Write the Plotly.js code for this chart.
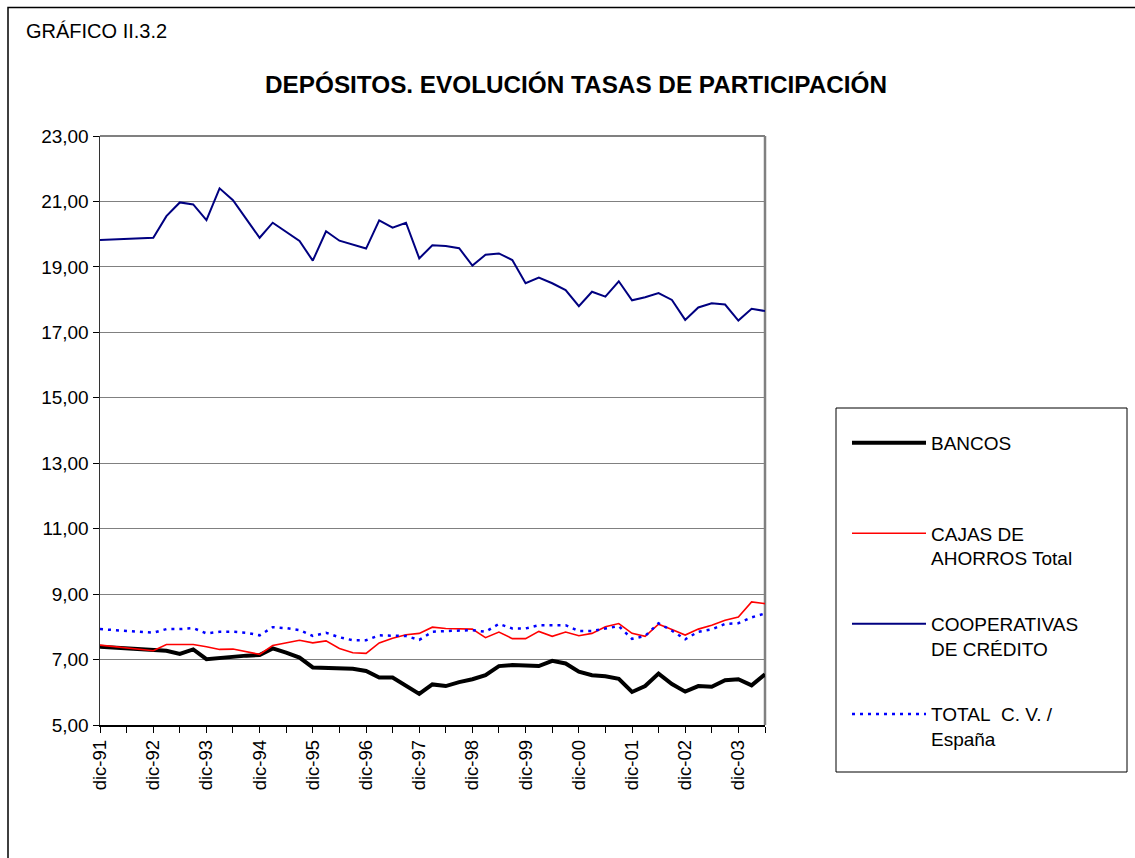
<!DOCTYPE html>
<html>
<head>
<meta charset="utf-8">
<script src="https://cdn.plot.ly/plotly-3.0.1.min.js"></script>
<style>
  html, body { margin: 0; padding: 0; background: #ffffff; }
  #chart { width: 1135px; height: 858px; }
</style>
</head>
<body>
<div id="chart"></div>
<script>
// Period of each observation (dic-91, dic-92, then quarterly up to jun-04)
const periods = [
  '1991-12-01','1992-12-01',
  '1993-03-01','1993-06-01','1993-09-01','1993-12-01',
  '1994-03-01','1994-06-01','1994-09-01','1994-12-01',
  '1995-03-01','1995-06-01','1995-09-01','1995-12-01',
  '1996-03-01','1996-06-01','1996-09-01','1996-12-01',
  '1997-03-01','1997-06-01','1997-09-01','1997-12-01',
  '1998-03-01','1998-06-01','1998-09-01','1998-12-01',
  '1999-03-01','1999-06-01','1999-09-01','1999-12-01',
  '2000-03-01','2000-06-01','2000-09-01','2000-12-01',
  '2001-03-01','2001-06-01','2001-09-01','2001-12-01',
  '2002-03-01','2002-06-01','2002-09-01','2002-12-01',
  '2003-03-01','2003-06-01','2003-09-01','2003-12-01',
  '2004-03-01','2004-06-01'
];

const bancos = [
  7.39, 7.28,
  7.27, 7.17, 7.31, 7.01,
  7.05, 7.10, 7.12, 7.14,
  7.34, 7.21, 7.06, 6.76,
  6.75, 6.75, 6.72, 6.65,
  6.45, 6.45, 6.19, 5.95,
  6.24, 6.19, 6.31, 6.40,
  6.52, 6.80, 6.83, 6.83,
  6.80, 6.96, 6.88, 6.63,
  6.52, 6.49, 6.41, 6.01,
  6.19, 6.57, 6.25, 6.02,
  6.19, 6.17, 6.37, 6.40,
  6.21, 6.55
];

const cajas = [
  7.44, 7.27,
  7.46, 7.46, 7.46, 7.39,
  7.31, 7.32, 7.24, 7.16,
  7.43, 7.52, 7.59, 7.51,
  7.57, 7.34, 7.21, 7.19,
  7.51, 7.65, 7.76, 7.80,
  7.99, 7.95, 7.95, 7.93,
  7.67, 7.84, 7.64, 7.64,
  7.86, 7.71, 7.84, 7.73,
  7.80, 8.00, 8.10, 7.80,
  7.71, 8.08, 7.92, 7.75,
  7.93, 8.05, 8.20, 8.30,
  8.76, 8.71
];

const cooperativas = [
  19.82, 19.89,
  20.55, 20.97, 20.91, 20.43,
  21.40, 21.04, 20.46, 19.89,
  20.35, 20.08, 19.79, 19.19,
  20.09, 19.80, 19.68, 19.56,
  20.42, 20.20, 20.35, 19.26,
  19.66, 19.64, 19.57, 19.04,
  19.37, 19.41, 19.21, 18.50,
  18.67, 18.50, 18.29, 17.80,
  18.24, 18.09, 18.56, 17.98,
  18.07, 18.20, 17.99, 17.38,
  17.76, 17.89, 17.85, 17.36,
  17.72, 17.65
];

const totalCV = [
  7.93, 7.82,
  7.93, 7.93, 7.96, 7.80,
  7.85, 7.85, 7.82, 7.74,
  7.99, 7.96, 7.90, 7.72,
  7.82, 7.68, 7.59, 7.59,
  7.74, 7.74, 7.72, 7.60,
  7.85, 7.87, 7.88, 7.90,
  7.85, 8.09, 7.95, 7.95,
  8.05, 8.05, 8.05, 7.87,
  7.87, 7.95, 8.02, 7.63,
  7.72, 8.11, 7.88, 7.62,
  7.85, 7.92, 8.09, 8.11,
  8.29, 8.41
];

// X axis ticks (every six months, labelled each December)
const tickDates = [
  '1991-12-01','1992-06-01','1992-12-01','1993-06-01','1993-12-01','1994-06-01',
  '1994-12-01','1995-06-01','1995-12-01','1996-06-01','1996-12-01','1997-06-01',
  '1997-12-01','1998-06-01','1998-12-01','1999-06-01','1999-12-01','2000-06-01',
  '2000-12-01','2001-06-01','2001-12-01','2002-06-01','2002-12-01','2003-06-01',
  '2003-12-01','2004-06-01'
];
const tickLabels = [
  'dic-91','','dic-92','','dic-93','',
  'dic-94','','dic-95','','dic-96','',
  'dic-97','','dic-98','','dic-99','',
  'dic-00','','dic-01','','dic-02','',
  'dic-03',''
];

const seriesNames = [
  'BANCOS<br>\u00a0',
  'CAJAS DE<br>AHORROS Total',
  'COOPERATIVAS<br>DE CRÉDITO',
  'TOTAL\u00a0 C. V. /<br>España'
];

const FONT = 'Arial, "Liberation Sans", Helvetica, sans-serif';

const traces = [
  { x: periods, y: bancos, name: seriesNames[0], legendgroup: 'g1', type: 'scatter', mode: 'lines',
    line: { color: '#000000', width: 4 } },
  { x: periods, y: cajas, name: seriesNames[1], legendgroup: 'g2', type: 'scatter', mode: 'lines',
    line: { color: '#ff0000', width: 1.6 } },
  { x: periods, y: cooperativas, name: seriesNames[2], legendgroup: 'g3', type: 'scatter', mode: 'lines',
    line: { color: '#000080', width: 2 } },
  { x: periods, y: totalCV, name: seriesNames[3], legendgroup: 'g4', type: 'scatter', mode: 'lines',
    line: { color: '#0000ff', width: 2.5, dash: '3px,5px' } }
];

const W = 1135, H = 858;
const L = 100, R = 765, T = 136, B = 725;
const px = v => (v - L) / (R - L);
const py = v => (B - v) / (B - T);

const layout = {
  width: W, height: H,
  margin: { l: L, r: W - R, t: T, b: H - B, pad: 0 },
  paper_bgcolor: '#ffffff',
  plot_bgcolor: '#ffffff',
  separators: ',.',
  font: { family: FONT, color: '#000000', size: 18 },
  title: {
    text: '<b>DEPÓSITOS. EVOLUCIÓN TASAS DE PARTICIPACIÓN</b>',
    font: { family: FONT, size: 24.3, color: '#000000' },
    xref: 'container', yref: 'container',
    x: 576 / W, xanchor: 'center',
    y: 1 - 84 / H, yanchor: 'middle'
  },
  showlegend: true,
  legend: {
    x: px(847), xanchor: 'left',
    y: py(424), yanchor: 'top',
    bgcolor: 'rgba(0,0,0,0)',
    borderwidth: 0,
    font: { family: FONT, size: 19, color: '#000000' },
    traceorder: 'grouped',
    tracegroupgap: 38,
    valign: 'top',
    itemwidth: 74,
    itemclick: false, itemdoubleclick: false
  },
  xaxis: {
    type: 'date',
    range: ['1991-12-01', '2004-06-01'],
    tickmode: 'array',
    tickvals: tickDates,
    ticktext: tickLabels,
    tickangle: -90,
    ticks: 'outside',
    ticklen: 6,
    tickcolor: '#000000',
    tickwidth: 1,
    tickfont: { family: FONT, size: 18.5, color: '#000000' },
    showgrid: false,
    zeroline: false,
    showline: true,
    linecolor: '#000000',
    linewidth: 1.5,
    fixedrange: true
  },
  yaxis: {
    range: [5, 23],
    tickmode: 'linear',
    tick0: 5,
    dtick: 2,
    tickformat: '.2f',
    ticks: 'outside',
    ticklen: 6,
    tickcolor: '#000000',
    tickwidth: 1,
    tickfont: { family: FONT, size: 19, color: '#000000' },
    showgrid: true,
    gridcolor: '#808080',
    gridwidth: 1,
    zeroline: false,
    showline: true,
    linecolor: '#333333',
    linewidth: 1.5,
    fixedrange: true
  },
  shapes: [
    // plot-area border (top and right, grey)
    { type: 'line', xref: 'paper', yref: 'paper', x0: 0, x1: 1, y0: 1, y1: 1,
      line: { color: '#808080', width: 2 }, layer: 'below' },
    { type: 'line', xref: 'paper', yref: 'paper', x0: 1, x1: 1, y0: 0, y1: 1,
      line: { color: '#808080', width: 2.5 }, layer: 'below' },
    // legend box
    { type: 'rect', xref: 'paper', yref: 'paper',
      x0: px(836), x1: px(1127), y0: py(772), y1: py(408),
      line: { color: '#000000', width: 1 }, fillcolor: 'rgba(0,0,0,0)' },
    // outer frame of the chart object (right and bottom edges fall outside the page)
    { type: 'rect', xref: 'paper', yref: 'paper',
      x0: px(8), x1: px(1180), y0: py(900), y1: py(7.5),
      line: { color: '#000000', width: 1.5 }, fillcolor: 'rgba(0,0,0,0)' }
  ],
  annotations: [
    { text: 'GRÁFICO II.3.2', xref: 'paper', yref: 'paper',
      x: px(24), xanchor: 'left', y: py(31), yanchor: 'middle',
      showarrow: false, font: { family: FONT, size: 20, color: '#000000' } }
  ]
};

Plotly.newPlot('chart', traces, layout, { displayModeBar: false, staticPlot: true });
</script>
</body>
</html>
